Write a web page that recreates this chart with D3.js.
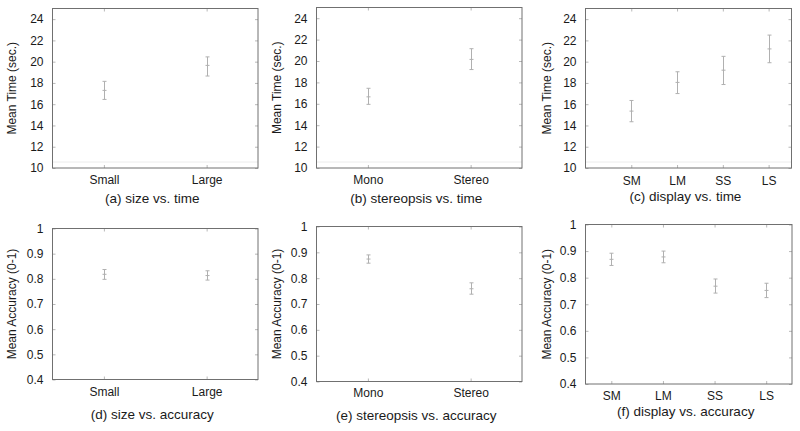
<!DOCTYPE html>
<html><head><meta charset="utf-8">
<script src="https://cdn.jsdelivr.net/npm/d3@7/dist/d3.min.js"></script>
<style>body{margin:0;background:#fff}svg{display:block}</style>
</head><body><svg id="c" width="800" height="431"></svg>
<script>
// ---- data ----
const catsSize = ["Small", "Large"];
const catsStereo = ["Mono", "Stereo"];
const catsDisplay = ["SM", "LM", "SS", "LS"];

const timeTicks = [10, 12, 14, 16, 18, 20, 22, 24];
const accTicks = [0.4, 0.5, 0.6, 0.7, 0.8, 0.9, 1];
const accTickLabels = ["0.4", "0.5", "0.6", "0.7", "0.8", "0.9", "1"];

const timeSizeMean = [17.3, 19.65];
const timeSizeLow = [16.45, 18.65];
const timeSizeHigh = [18.15, 20.45];

const timeStereoMean = [16.65, 20.15];
const timeStereoLow = [15.95, 19.2];
const timeStereoHigh = [17.45, 21.15];

const timeDisplayMean = [15.35, 18.05, 19.2, 21.2];
const timeDisplayLow = [14.35, 17.0, 17.85, 19.9];
const timeDisplayHigh = [16.35, 19.05, 20.5, 22.5];

const accSizeMean = [0.818, 0.813];
const accSizeLow = [0.798, 0.795];
const accSizeHigh = [0.837, 0.832];

const accStereoMean = [0.874, 0.759];
const accStereoLow = [0.858, 0.738];
const accStereoHigh = [0.89, 0.782];

const accDisplayMean = [0.869, 0.878, 0.768, 0.752];
const accDisplayLow = [0.846, 0.856, 0.742, 0.725];
const accDisplayHigh = [0.892, 0.9, 0.795, 0.779];

const captions = ["(a) size vs. time", "(b) stereopsis vs. time", "(c) display vs. time",
                  "(d) size vs. accuracy", "(e) stereopsis vs. accuracy", "(f) display vs. accuracy"];

// ---- layout ----
const panels = [
  {cats: catsSize, mean: timeSizeMean, lo: timeSizeLow, hi: timeSizeHigh, y: [10, 25], ticks: timeTicks, tlab: timeTicks.map(String), title: "Mean Time (sec.)",
   box: [52.5, 8.5, 258, 168], xd: [0.5, 2.5], titleX: 16, capY: 203, catY: 184, cap: captions[0], faint: true},
  {cats: catsStereo, mean: timeStereoMean, lo: timeStereoLow, hi: timeStereoHigh, y: [10, 25], ticks: timeTicks, tlab: timeTicks.map(String), title: "Mean Time (sec.)",
   box: [316.5, 7.5, 522, 168], xd: [0.5, 2.5], titleX: 281, capY: 203, catY: 184, cap: captions[1], faint: true},
  {cats: catsDisplay, mean: timeDisplayMean, lo: timeDisplayLow, hi: timeDisplayHigh, y: [10, 25], ticks: timeTicks, tlab: timeTicks.map(String), title: "Mean Time (sec.)",
   box: [585.5, 8.5, 791.5, 168], xd: [0, 4.5], titleX: 551, capY: 201, catY: 185, cap: captions[2], faint: true},
  {cats: catsSize, mean: accSizeMean, lo: accSizeLow, hi: accSizeHigh, y: [0.4, 1], ticks: accTicks, tlab: accTickLabels, title: "Mean Accuracy (0-1)",
   box: [52.5, 228.5, 258, 379.5], xd: [0.5, 2.5], titleX: 16, capY: 419, catY: 396, cap: captions[3]},
  {cats: catsStereo, mean: accStereoMean, lo: accStereoLow, hi: accStereoHigh, y: [0.4, 1], ticks: accTicks, tlab: accTickLabels, title: "Mean Accuracy (0-1)",
   box: [316.5, 226.5, 522, 381.5], xd: [0.5, 2.5], titleX: 281, capY: 420, catY: 397, cap: captions[4]},
  {cats: catsDisplay, mean: accDisplayMean, lo: accDisplayLow, hi: accDisplayHigh, y: [0.4, 1], ticks: accTicks, tlab: accTickLabels, title: "Mean Accuracy (0-1)",
   box: [585.5, 224.5, 792, 384], xd: [0.5, 4.5], titleX: 551, capY: 416, catY: 400, cap: captions[5]}
];

const svg = d3.select("#c");
const FONT = "'Liberation Sans', Arial, Helvetica, sans-serif";
const BOX = "#707070", TICK = "#b8b8b8", BAR = "#b0b0b0", TXT = "#1a1a1a";

panels.forEach(p => {
  const [x0, y0, x1, y1] = p.box;
  const x = d3.scaleLinear().domain(p.xd).range([x0, x1]);
  const y = d3.scaleLinear().domain(p.y).range([y1, y0]);
  const g = svg.append("g");

  if (p.faint) {
    g.append("line").attr("x1", x0).attr("x2", x1).attr("y1", y1 - 6).attr("y2", y1 - 6)
      .attr("stroke", "#ececec").attr("stroke-width", 1);
  }

  // y ticks (left with labels, mirrored right)
  const yl = d3.axisLeft(y).tickValues(p.ticks).tickSize(-3).tickPadding(9)
    .tickFormat((d, i) => p.tlab[i]);
  const ya = g.append("g").attr("transform", `translate(${x0},0)`).call(yl);
  ya.select(".domain").remove();
  ya.selectAll("line").attr("stroke", TICK);
  ya.selectAll("text").attr("font-family", FONT).attr("font-size", 12).attr("fill", TXT);

  const yr = d3.axisRight(y).tickValues(p.ticks).tickSize(-3).tickFormat("");
  const yra = g.append("g").attr("transform", `translate(${x1},0)`).call(yr);
  yra.select(".domain").remove();
  yra.selectAll("line").attr("stroke", TICK);

  // x ticks (bottom with labels, mirrored top)
  const idx = p.cats.map((c, i) => i + 1);
  const xb = d3.axisBottom(x).tickValues(idx).tickSize(-3).tickPadding(0).tickFormat((d, i) => p.cats[i]);
  const xba = g.append("g").attr("transform", `translate(0,${y1})`).call(xb);
  xba.select(".domain").remove();
  xba.selectAll("line").attr("stroke", TICK);
  xba.selectAll("text").attr("font-family", FONT).attr("font-size", 12).attr("fill", TXT)
    .attr("dy", null).attr("y", p.catY - y1);

  const xt = d3.axisTop(x).tickValues(idx).tickSize(-3).tickFormat("");
  const xta = g.append("g").attr("transform", `translate(0,${y0})`).call(xt);
  xta.select(".domain").remove();
  xta.selectAll("line").attr("stroke", TICK);

  // box
  g.append("rect").attr("x", x0).attr("y", y0).attr("width", x1 - x0).attr("height", y1 - y0)
    .attr("fill", "none").attr("stroke", BOX).attr("stroke-width", 1);

  // error bars
  const eb = g.selectAll("g.eb").data(p.cats).join("g").attr("class", "eb");
  eb.append("line").attr("x1", (d, i) => Math.round(x(i + 1)) + 0.5).attr("x2", (d, i) => Math.round(x(i + 1)) + 0.5)
    .attr("y1", (d, i) => y(p.lo[i])).attr("y2", (d, i) => y(p.hi[i]))
    .attr("stroke", BAR).attr("stroke-width", 1);
  [p.lo, p.mean, p.hi].forEach(arr => {
    eb.append("line").attr("x1", (d, i) => Math.round(x(i + 1)) - 1.5).attr("x2", (d, i) => Math.round(x(i + 1)) + 2.5)
      .attr("y1", (d, i) => y(arr[i])).attr("y2", (d, i) => y(arr[i]))
      .attr("stroke", BAR).attr("stroke-width", 1);
  });

  // y title
  g.append("text").attr("transform", `translate(${p.titleX},${(y0 + y1) / 2}) rotate(-90)`)
    .attr("text-anchor", "middle").attr("font-family", FONT).attr("font-size", 12).attr("fill", TXT)
    .text(p.title);

  // caption
  g.append("text").attr("x", (x0 + x1) / 2 - 3).attr("y", p.capY).attr("text-anchor", "middle")
    .attr("font-family", FONT).attr("font-size", 13.5).attr("fill", TXT).text(p.cap);
});
</script></body></html>
